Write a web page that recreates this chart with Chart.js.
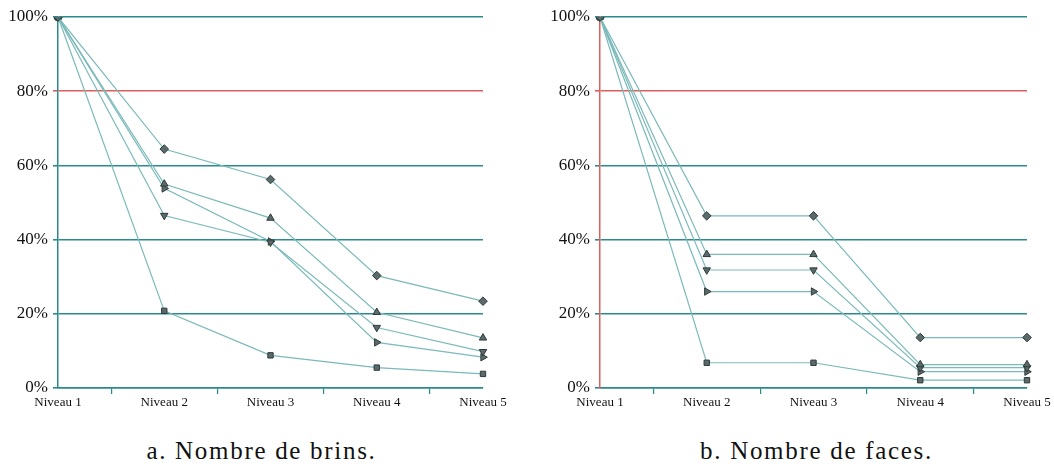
<!DOCTYPE html>
<html>
<head>
<meta charset="utf-8">
<script src="https://cdn.jsdelivr.net/npm/chart.js@4/dist/chart.umd.min.js"></script>
<style>
  html, body { margin: 0; padding: 0; background: #fff; }
  body { width: 1054px; height: 466px; position: relative; overflow: hidden; }
  .panel { position: absolute; top: 0; width: 527px; height: 420px; }
  .caption {
    position: absolute; top: 437px; width: 527px; text-align: center;
    font-family: 'Liberation Serif', 'Times New Roman', Times, serif; font-size: 25px;
    letter-spacing: 1.7px; color: #111;
  }
</style>
</head>
<body>
<div class="panel" style="left:0"><canvas id="brins-chart"></canvas></div>
<div class="panel" style="left:527px"><canvas id="faces-chart"></canvas></div>
<div class="caption" style="left:-2px">a. Nombre de brins.</div>
<div class="caption" style="left:553px">b. Nombre de faces.</div>

<script>
// ── Data ──
const LEVELS = ['Niveau 1', 'Niveau 2', 'Niveau 3', 'Niveau 4', 'Niveau 5'];
const Y_MAX = 100;
const Y_STEP = 20;

// a. Nombre de brins (%)
const BRINS_DIAMOND   = [100, 64.4, 56.2, 30.3, 23.4];
const BRINS_TRI_UP    = [100, 55.0, 45.8, 20.4, 13.5];
const BRINS_TRI_DOWN  = [100, 46.5, 39.3, 16.3,  9.8];
const BRINS_TRI_RIGHT = [100, 53.8, 39.5, 12.3,  8.3];
const BRINS_SQUARE    = [100, 20.8,  8.8,  5.5,  3.8];

// b. Nombre de faces (%)
const FACES_DIAMOND   = [100, 46.4, 46.4, 13.6, 13.6];
const FACES_TRI_UP    = [100, 36.0, 36.0,  6.3,  6.3];
const FACES_TRI_DOWN  = [100, 31.8, 31.8,  5.5,  5.5];
const FACES_TRI_RIGHT = [100, 26.0, 26.0,  4.4,  4.4];
const FACES_SQUARE    = [100,  6.8,  6.8,  2.1,  2.1];

const COLORS = {
  teal:   '#2b8a8c',
  red:    '#d9605c',
  line:   '#7bb9ba',
  marker: '#5b6b6b',
  markerBorder: '#2f3a3a',
  text:   '#111'
};

const SERIF = "'Liberation Serif', 'Times New Roman', Times, serif";

function dataset(values, style, rotation) {
  return {
    data: values,
    borderColor: COLORS.line,
    borderWidth: 1.2,
    pointStyle: style,
    pointRotation: rotation || 0,
    pointRadius: style === 'rect' ? 3.8 : 4.3,
    pointBackgroundColor: COLORS.marker,
    pointBorderColor: COLORS.markerBorder,
    pointBorderWidth: 1,
    tension: 0,
    fill: false
  };
}

function buildChart(id, series, yAxisWidth, padRight, axisColor) {
  const ctx = document.getElementById(id).getContext('2d');
  return new Chart(ctx, {
    type: 'line',
    data: {
      labels: LEVELS,
      datasets: [
        dataset(series[0], 'rectRot'),
        dataset(series[1], 'triangle'),
        dataset(series[2], 'triangle', 180),
        dataset(series[3], 'triangle', 90),
        dataset(series[4], 'rect')
      ]
    },
    options: {
      responsive: false,
      animation: false,
      devicePixelRatio: 1,
      layout: { padding: { top: 17, right: padRight, bottom: 0, left: 0 } },
      plugins: { legend: { display: false }, tooltip: { enabled: false } },
      scales: {
        x: {
          type: 'category',
          offset: false,
          grid: {
            display: true,
            offset: true,
            drawOnChartArea: false,
            drawTicks: true,
            tickLength: 6,
            color: COLORS.teal,
            lineWidth: 1.2
          },
          border: { display: true, color: COLORS.teal, width: 1.5 },
          ticks: {
            color: COLORS.text,
            padding: 1,
            maxRotation: 0,
            autoSkip: false,
            font: { family: SERIF, size: 13 }
          },
          afterFit(scale) { scale.height = 32; }
        },
        y: {
          min: 0,
          max: Y_MAX,
          ticks: {
            stepSize: Y_STEP,
            color: COLORS.text,
            padding: 5,
            font: { family: SERIF, size: 17 },
            callback: v => v + '%'
          },
          grid: {
            color: c => (c.tick && c.tick.value === 80) ? COLORS.red : COLORS.teal,
            lineWidth: 1.6,
            tickLength: 5
          },
          border: { display: true, color: axisColor, width: 1.5 },
          afterFit(scale) { scale.width = yAxisWidth; }
        }
      }
    }
  });
}

function sizeCanvas(id) {
  const c = document.getElementById(id);
  c.width = 527; c.height = 420;
  c.style.width = '527px'; c.style.height = '420px';
}

sizeCanvas('brins-chart');
sizeCanvas('faces-chart');

buildChart('brins-chart',
  [BRINS_DIAMOND, BRINS_TRI_UP, BRINS_TRI_DOWN, BRINS_TRI_RIGHT, BRINS_SQUARE],
  58, 44, COLORS.teal);

buildChart('faces-chart',
  [FACES_DIAMOND, FACES_TRI_UP, FACES_TRI_DOWN, FACES_TRI_RIGHT, FACES_SQUARE],
  73, 27, COLORS.red);
</script>
</body>
</html>
